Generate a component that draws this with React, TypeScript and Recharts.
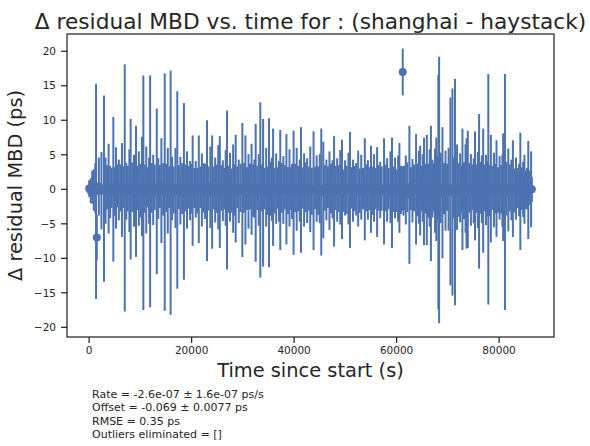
import { ScatterChart, Scatter, XAxis, YAxis, ErrorBar } from "recharts";

// time since start (s), residual MBD (ps) and its 1-sigma error (ps)
const TIME_S = [
  0, 300, 600, 900, 1200, 1350, 1500, 1900, 2400, 2900,
  3200, 3500, 3800, 4100, 4400, 4720, 5000, 5250, 5500, 5800,
  6100, 6400, 6700, 6950, 7250, 7550, 7850, 8100, 8400, 8750,
  9150, 9400, 9700, 10000, 10300, 10580, 10850, 11150, 11450, 11700,
  11900, 12200, 12500, 12800, 13200, 13500, 13800, 14100, 14450, 14750,
  15050, 15350, 15600, 15900, 16200, 16500, 16850, 17200, 17500, 17800,
  18150, 18500, 18800, 19100, 19400, 19700, 20000, 20200, 20500, 20800,
  21100, 21400, 21700, 22000, 22300, 22600, 23000, 23300, 23650, 24000,
  24300, 24600, 24900, 25200, 25500, 25800, 26100, 26400, 26650, 26900,
  27200, 27500, 27800, 28100, 28350, 28600, 28900, 29200, 29550, 29900,
  30200, 30500, 30800, 31100, 31400, 31700, 32000, 32250, 32500, 32800,
  33100, 33400, 33700, 33950, 34250, 34550, 34850, 35100, 35400, 35650,
  35900, 36200, 36500, 36800, 37050, 37300, 37600, 37900, 38200, 38500,
  38800, 39100, 39350, 39600, 39900, 40200, 40500, 40800, 41100, 41350,
  41650, 41950, 42250, 42550, 42850, 43150, 43450, 43800, 44100, 44400,
  44700, 45000, 45300, 45700, 46000, 46300, 46600, 46900, 47200, 47500,
  47800, 48100, 48400, 48700, 49000, 49350, 49650, 49950, 50250, 50600,
  50900, 51200, 51500, 51800, 52100, 52500, 52800, 53100, 53450, 53800,
  54100, 54400, 54700, 55000, 55300, 55600, 55900, 56200, 56500, 56800,
  57100, 57550, 57850, 58150, 58450, 58800, 59100, 59400, 59700, 60000,
  60300, 60550, 60850, 61050, 61200, 61350, 61550, 61800, 62100, 62500, 62800, 63100,
  63400, 63800, 64100, 64350, 64600, 64900, 65100, 65350, 65600, 65900,
  66150, 66450, 66700, 67000, 67250, 67500, 67750, 68000, 68150, 68300,
  68600, 68950, 69250, 69550, 69850, 70150, 70500, 70900, 71150, 71400,
  71800, 72100, 72400, 72600, 72850, 73150, 73450, 73650, 73900, 74200,
  74500, 74800, 75050, 75300, 75600, 75850, 76100, 76400, 76650, 76900,
  77200, 77450, 77700, 77900, 78150, 78400, 78700, 79000, 79250, 79500,
  79800, 80100, 80400, 80650, 80800, 81150, 81450, 81800, 82100, 82400,
  82700, 83000, 83300, 83600, 83900, 84150, 84450, 84700, 84950, 85200,
  85450, 85700, 85950, 86250, 86400,
];

const RESIDUAL_PS = [
  0.1, -0.2, 0.3, -0.1, 0.2, -0.3, -7.0, 0.4, -0.2, 0.1,
  -0.2, 0.3, 0.1, -0.4, 0.2, 0.0, -0.3, 0.2, 0.5, -0.1,
  0.2, -0.1, 0.3, 0.2, -0.3, 0.1, -0.2, 0.0, 0.3, -0.2,
  -0.3, 0.2, 0.1, -0.2, 0.4, -0.5, 0.1, -0.1, 0.3, -0.2,
  -0.3, 0.2, -0.1, 0.3, -0.3, 0.1, 0.4, -0.2, 0.0, -0.4,
  0.2, -0.2, 0.3, -0.5, 0.1, -0.1, 0.2, -0.1, 0.3, -0.2,
  0.1, -0.3, 0.2, -0.1, 0.3, -0.2, 0.1, -0.2, 0.2, 0.0,
  -0.2, 0.0, 0.3, -0.1, 0.2, -0.3, -0.2, 0.1, 0.3, -0.4,
  0.2, -0.1, 0.1, 0.3, -0.4, 0.2, -0.2, 0.1, 0.2, -0.1,
  0.0, 0.3, -0.2, 0.1, -0.1, 0.1, 0.3, -0.3, 0.2, -0.1,
  0.2, -0.1, 0.1, -0.3, 0.4, 0.0, -0.2, 0.1, -0.5, 0.2,
  -0.1, -0.1, 0.2, -0.5, 0.1, 0.3, -0.2, -0.5, 0.1, 0.0,
  0.3, -0.2, 0.1, 0.2, -0.3, -0.1, 0.2, -0.1, 0.3, 0.0,
  -0.2, 0.2, 0.1, -0.3, -0.5, 0.2, 0.0, 0.1, -0.2, -0.1,
  0.2, -0.1, 0.3, -0.2, 0.1, 0.0, -0.3, -0.2, 0.2, 0.1,
  -0.2, 0.1, -0.4, -0.1, 0.2, -0.1, 0.3, -0.2, 0.1, 0.0,
  -0.3, 0.2, -0.1, 0.1, 0.3, 0.0, -0.2, 0.2, -0.1, 0.1,
  -0.1, 0.2, -0.2, 0.1, 0.0, 0.1, -0.2, 0.3, 0.1, 0.0,
  0.2, -0.1, 0.1, 0.0, -0.2, 0.2, 0.1, -0.4, 0.2, -0.1,
  0.1, -0.3, 0.2, -0.1, 0.1, 0.3, -0.5, 0.0, 0.2, -0.2,
  0.1, 0.2, -0.1, 0.1, 17.0, -0.2, 0.2, -0.1, 0.3, -0.8, 0.1, -0.2,
  0.2, 0.0, -0.1, 0.3, -0.2, 0.1, 0.2, -0.3, 0.1, -0.1,
  -0.2, 0.2, -0.6, 0.1, 0.3, -0.2, 0.0, 0.2, -0.4, -0.1,
  0.2, -0.5, 0.1, -0.2, 0.3, 0.0, -0.3, -0.4, 0.2, -0.4,
  0.3, -0.1, 0.2, 0.0, 0.0, -0.2, 0.1, -0.6, 0.0, 0.2,
  -0.1, 0.3, -0.2, 0.5, 0.1, -0.1, -0.3, 0.2, 0.0, -0.2,
  0.2, -0.1, 0.1, 0.0, -0.2, 0.1, 0.2, -0.1, 0.1, 0.1,
  -0.1, 0.2, 0.0, -0.2, 0.3, -0.4, 0.1, -0.1, 0.2, -0.1,
  0.1, -0.2, 0.1, 0.2, -0.1, -0.3, 0.1, 0.0, 0.0, -0.1,
  0.1, -0.1, 0.2, 0.0, 0.0,
];

const SIGMA_PS = [
  1.2, 1.8, 2.4, 3.0, 3.6, 15.6, 3.3, 4.2, 5.6, 13.5,
  4.8, 3.2, 6.5, 3.8, 2.9, 10.5, 3.5, 5.9, 3.1, 4.4,
  3.4, 6.8, 3.0, 17.9, 4.1, 3.3, 6.0, 10.2, 3.6, 5.2,
  9.5, 3.2, 5.4, 3.9, 7.2, 17.0, 3.5, 6.3, 2.9, 4.8,
  16.8, 3.6, 5.1, 3.3, 12.0, 4.4, 3.1, 7.6, 3.8, 17.2,
  3.5, 6.2, 3.0, 17.7, 4.6, 3.4, 5.8, 14.3, 3.2, 4.9,
  3.7, 12.8, 3.4, 5.6, 3.1, 4.3, 3.6, 8.0, 2.9, 4.1,
  3.3, 7.8, 3.0, 5.3, 3.6, 4.0, 10.2, 3.2, 5.9, 8.2,
  3.1, 4.7, 3.5, 6.1, 8.1, 3.3, 4.4, 3.0, 5.5, 11.5,
  3.4, 5.0, 3.2, 6.4, 3.7, 7.8, 3.0, 4.6, 3.5, 9.7,
  3.6, 7.9, 3.1, 5.4, 3.3, 6.6, 3.8, 4.2, 10.0, 3.2,
  5.2, 12.7, 3.4, 10.7, 3.0, 5.7, 3.5, 10.8, 3.9, 4.6,
  8.5, 3.3, 5.1, 3.0, 4.4, 8.7, 3.6, 4.9, 3.2, 8.0,
  3.4, 5.6, 3.1, 4.0, 9.0, 3.5, 6.0, 3.3, 4.5, 9.1,
  3.0, 5.3, 3.6, 4.7, 3.2, 6.2, 3.4, 8.6, 3.1, 4.8,
  3.5, 5.0, 9.2, 7.0, 3.3, 4.4, 3.0, 5.7, 3.6, 4.2,
  8.0, 3.2, 4.6, 3.4, 5.4, 7.2, 3.1, 4.0, 3.5, 5.2,
  8.4, 3.0, 4.5, 3.3, 3.8, 5.5, 3.2, 4.7, 3.0, 7.4,
  3.4, 4.3, 3.1, 6.3, 3.5, 4.9, 3.0, 6.5, 3.3, 4.1,
  3.2, 7.7, 3.4, 4.6, 3.0, 5.2, 8.0, 3.3, 4.4, 3.1,
  4.8, 6.5, 3.5, 3.2, 3.4, 3.6, 3.2, 5.0, 3.6, 10.0, 3.1, 4.6,
  3.4, 8.0, 3.8, 5.3, 6.5, 3.3, 4.9, 7.8, 3.6, 8.0,
  3.9, 5.6, 9.8, 4.2, 3.5, 6.1, 7.5, 4.6, 17.0, 19.3,
  5.1, 9.5, 3.7, 5.8, 3.4, 6.0, 13.6, 15.0, 4.4, 16.4,
  6.2, 3.9, 5.0, 3.4, 8.8, 4.1, 6.4, 8.0, 8.5, 3.6,
  5.2, 3.3, 4.7, 7.9, 3.5, 5.5, 11.2, 3.8, 4.9, 9.0,
  3.4, 5.1, 4.0, 16.7, 3.7, 7.8, 3.2, 5.4, 3.6, 7.0,
  3.3, 4.6, 3.5, 5.2, 7.8, 17.1, 3.9, 6.0, 3.4, 4.4,
  7.0, 3.2, 4.5, 2.9, 3.8, 8.5, 3.1, 4.0, 5.0, 2.8,
  3.0, 7.1, 2.5, 5.5, 1.8,
];

const X_TICKS = [0, 20000, 40000, 60000, 80000];
const Y_TICKS = [-20, -15, -10, -5, 0, 5, 10, 15, 20];

const STATS = [
  "Rate = -2.6e-07 \u00b1 1.6e-07 ps/s",
  "Offset = -0.069 \u00b1 0.0077 ps",
  "RMSE = 0.35 ps",
  "Outliers eliminated = []",
];
const STATS_Y = [397.5, 411, 424.5, 438];

const BLUE = "#4C72B0";
const INK = "#262626";
const FONT = "'DejaVu Sans', sans-serif";

const data = TIME_S.map((t, i) => ({ t, v: RESIDUAL_PS[i], e: SIGMA_PS[i] }));

const minus = (n: number) => String(n).replace("-", "\u2212");

export default function App() {
  return (
    <div style={{ position: "absolute", left: 0, top: 0, width: 590, height: 446, background: "#fff", fontFamily: FONT }}>
      <ScatterChart width={590} height={446} margin={{ top: 34, right: 36, bottom: 79, left: 22 }}>
        <XAxis
          dataKey="t"
          type="number"
          domain={[-4320, 90720]}
          allowDataOverflow
          ticks={X_TICKS}
          height={30}
          axisLine={false}
          tickLine={{ stroke: INK, strokeWidth: 1.25 }}
          tickSize={6}
          tickMargin={4}
          tick={{ fontSize: 10.5, fill: INK, fontFamily: FONT }}
        />
        <YAxis
          dataKey="v"
          type="number"
          domain={[-21.4, 22.5]}
          allowDataOverflow
          ticks={Y_TICKS}
          width={45}
          axisLine={false}
          tickLine={{ stroke: INK, strokeWidth: 1.25 }}
          tickSize={6}
          tickMargin={5}
          tickFormatter={minus}
          tick={{ fontSize: 10.5, fill: INK, fontFamily: FONT }}
        />
        <Scatter
          data={data}
          isAnimationActive={false}
          shape={(p: any) => <circle cx={p.cx} cy={p.cy} r={4} fill={BLUE} />}
        >
          <ErrorBar dataKey="e" direction="y" width={0} stroke={BLUE} strokeWidth={2} isAnimationActive={false} />
        </Scatter>
      </ScatterChart>
      <svg width={590} height={446} style={{ position: "absolute", left: 0, top: 0, pointerEvents: "none" }}>
        <rect x={67} y={34} width={487} height={303} fill="none" stroke={INK} strokeWidth={1.25} />
        <text x={310.5} y={28.5} textAnchor="middle" fontSize={21.7} fill={INK} fontFamily={FONT}>
          Δ residual MBD vs. time for : (shanghai - haystack)
        </text>
        <text x={310.5} y={377} textAnchor="middle" fontSize={19.4} fill={INK} fontFamily={FONT}>
          Time since start (s)
        </text>
        <text x={22} y={185.5} textAnchor="middle" fontSize={19.4} fill={INK} fontFamily={FONT} transform="rotate(-90 22 185.5)">
          Δ residual MBD (ps)
        </text>
        {STATS.map((s, i) => (
          <text key={s} x={92} y={STATS_Y[i]} fontSize={11} fill={INK} fontFamily={FONT}>
            {s}
          </text>
        ))}
      </svg>
    </div>
  );
}
